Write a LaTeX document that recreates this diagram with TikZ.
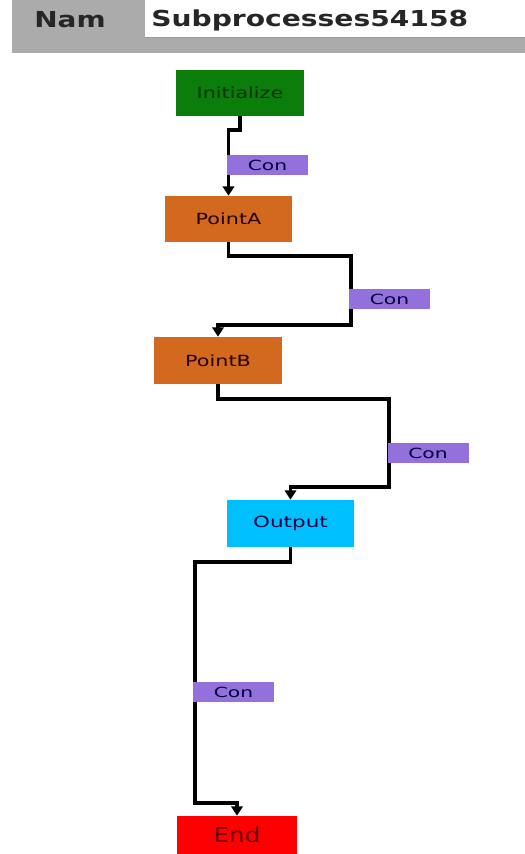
\documentclass[tikz,border=0pt]{standalone}
\usepackage{fontspec}
\setmainfont{DejaVu Sans}
\usetikzlibrary{arrows.meta}
\definecolor{hdrgray}{HTML}{ABABAB}
\definecolor{initgreen}{HTML}{0A7D0A}
\definecolor{ptorange}{HTML}{D2691E}
\definecolor{outcyan}{HTML}{00BFFF}
\definecolor{endred}{HTML}{FF0000}
\definecolor{conpurple}{HTML}{9370DB}
\newcommand{\wtxt}[2][1.35]{\scalebox{#1}[1]{#2}}
\tikzset{
  x=0.75pt, y=-0.75pt,
  procbox/.style={rectangle, inner sep=0pt, font=\fontsize{11.5pt}{13pt}\selectfont},
  conlabel/.style={rectangle, fill=conpurple, inner sep=0pt, minimum width={81*0.75pt}, minimum height={20*0.75pt}, font=\fontsize{10.5pt}{12pt}\selectfont, text=black!60!blue!60!black},
  conn/.style={draw=black, line width=2.3pt, -{Triangle[length=7pt,width=8.5pt]}}
}
\begin{document}
\begin{tikzpicture}
\useasboundingbox (0,0) rectangle (525,854);
% header
\fill[hdrgray] (12,0) rectangle (525,53);
\fill[white] (145,0) rectangle (525,37);
\draw[black!40, line width=0.6pt] (145,37) -- (525,37);
\node[anchor=west, inner sep=0pt, font=\fontsize{16.5pt}{18pt}\selectfont\bfseries, text=black!85] (hdrname) at (34,20) {\wtxt[1.27]{Nam}};
\node[anchor=west, inner sep=0pt, font=\fontsize{16.5pt}{18pt}\selectfont\bfseries, text=black!85] (hdrval) at (151,20) {\wtxt[1.28]{Subprocesses54158}};
% nodes
\node[procbox, fill=initgreen, minimum width={128*0.75pt}, minimum height={46*0.75pt}, text=black!80!green] (init) at (240,93) {\wtxt{Initialize}};
\node[procbox, fill=ptorange, minimum width={127*0.75pt}, minimum height={46*0.75pt}, text=black!85!red] (pa) at (228.5,219) {\wtxt{PointA}};
\node[procbox, fill=ptorange, minimum width={128*0.75pt}, minimum height={47*0.75pt}, text=black!85!red] (pb) at (218,360.5) {\wtxt{PointB}};
\node[procbox, fill=outcyan, minimum width={127*0.75pt}, minimum height={47*0.75pt}, text=black!75!blue] (out) at (290.5,523.5) {\wtxt[1.4]{Output}};
\node[procbox, fill=endred, minimum width={120*0.75pt}, minimum height={38*0.75pt}, text=black!60!red, font=\fontsize{15.4pt}{17pt}\selectfont] (end) at (237,835) {\wtxt[1.2]{End}};
% connectors
\draw[conn] (init.south) -- (240,130) -| (pa.north);
\draw[conn] (pa.south) -- (228.5,256) -| (351,325) -| (pb.north);
\draw[conn] (pb.south) -- (218,399) -| (389,487) -| (out.north);
\draw[conn] (out.south) -- (290.5,562) -| (195,803) -| (end.north);
% labels
\node[conlabel] (l1) at (267.5,165) {\wtxt[1.45]{Con}};
\node[conlabel] (l2) at (389.5,299) {\wtxt[1.45]{Con}};
\node[conlabel] (l3) at (428,453) {\wtxt[1.45]{Con}};
\node[conlabel] (l4) at (233.5,692) {\wtxt[1.45]{Con}};
\end{tikzpicture}
\end{document}
